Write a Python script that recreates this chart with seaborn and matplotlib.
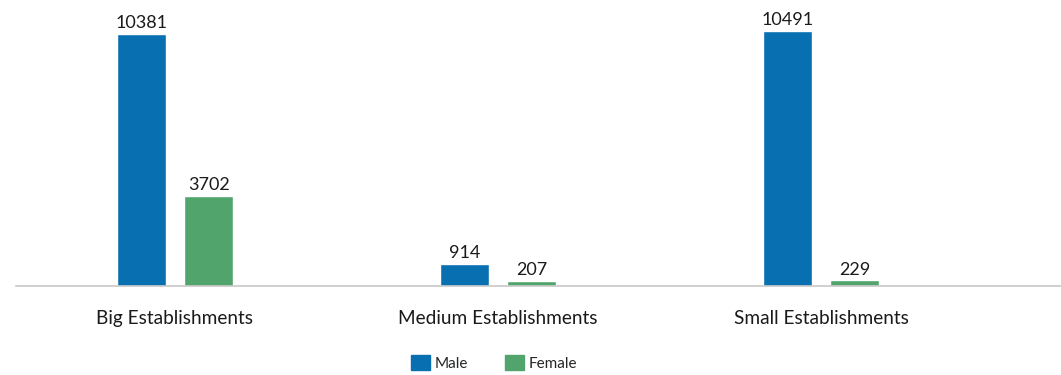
import matplotlib
matplotlib.use("Agg")
import matplotlib.pyplot as plt
import seaborn as sns
import pandas as pd

categories = ["Big Establishments", "Medium Establishments", "Small Establishments"]
male = [10381, 914, 10491]
female = [3702, 207, 229]
series = ["Male", "Female"]

df = pd.DataFrame({
    "category": categories * 2,
    "sex": [series[0]] * len(categories) + [series[1]] * len(categories),
    "count": male + female,
})

sns.set_theme(style="white")
plt.rcParams["font.family"] = ["Lato", "DejaVu Sans"]

palette = {"Male": "#0870B0", "Female": "#51A56C"}

fig = plt.figure(figsize=(10.61, 3.75), dpi=100)
ax = fig.add_axes([16 / 1061, 89 / 375, 1045 / 1061, 286 / 375])

sns.barplot(data=df, x="category", y="count", hue="sex", order=categories,
            hue_order=series, palette=palette, width=0.418, gap=0.274,
            saturation=1, legend=False, ax=ax)

for cont in ax.containers:
    ax.bar_label(cont, labels=[f"{int(v)}" for v in cont.datavalues],
                 padding=2, fontsize=13, color="#1a1a1a")

ax.set_xlim(-0.492, 2.743)
ax.set_ylim(0, 11779)
ax.set_xlabel("")
ax.set_ylabel("")
ax.set_yticks([])
ax.tick_params(axis="x", length=0, pad=17, labelsize=13.7, labelcolor="#1a1a1a")
for side in ["top", "right", "left"]:
    ax.spines[side].set_visible(False)
ax.spines["bottom"].set_color("#c8c8c8")
ax.spines["bottom"].set_linewidth(1.2)

handles = [plt.Rectangle((0, 0), 1, 1, color=palette[s]) for s in series]
fig.legend(handles, series, loc="center", bbox_to_anchor=(494 / 1061, 12 / 375),
           ncol=2, frameon=False, fontsize=11, handlelength=1.24, handleheight=1.05,
           handletextpad=0.3, columnspacing=2.4, borderpad=0)

fig.savefig("out.png", dpi=100)
